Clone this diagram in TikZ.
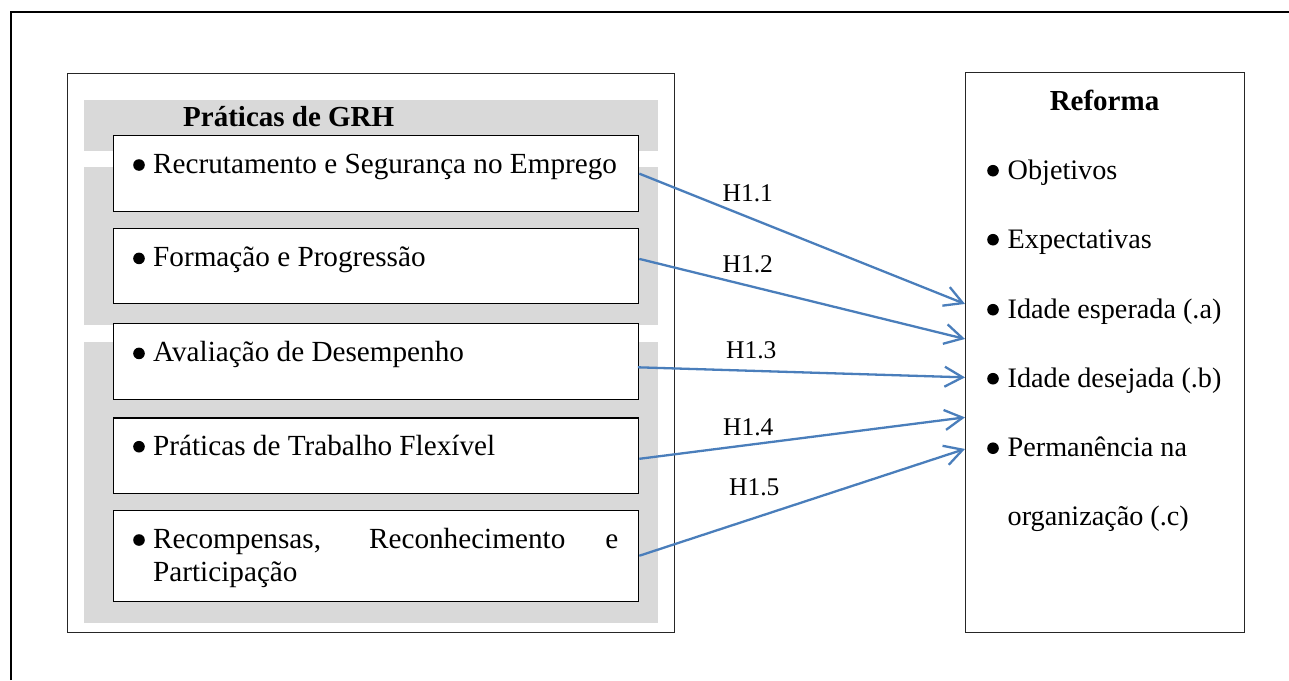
\documentclass[tikz,border=0pt]{standalone}
\usepackage{fontspec}
\setmainfont{Liberation Serif}
\usetikzlibrary{arrows.meta}
\definecolor{bandgray}{HTML}{D9D9D9}
\definecolor{arrblue}{HTML}{4A7EBB}
\newcommand\bul[1][20pt]{\makebox[#1][l]{\tikz[baseline=-8.3pt]\fill (0pt,0pt) circle[radius=5.8pt];}}
\tikzset{
  container/.style={draw=black!85, line width=1.3pt, anchor=north west, inner sep=0pt, fill=white},
  band/.style={fill=bandgray, draw=none, anchor=north west, inner sep=0pt},
  wbox/.style={draw=black, line width=1.3pt, fill=white, anchor=north west, inner sep=0pt, minimum width=525.5pt},
  item/.style={anchor=base west, inner sep=0pt, font=\fontsize{29.2}{33.4}\selectfont, align=left},
  ritem/.style={anchor=base west, inner sep=0pt, font=\fontsize{28.2}{69}\selectfont, align=left},
  hlabel/.style={anchor=base west, inner sep=0pt, font=\fontsize{25.5}{30}\selectfont},
  head/.style={inner sep=0pt, font=\fontsize{29}{34}\selectfont\bfseries},
  arr/.style={draw=arrblue, line width=2.3pt, -{Straight Barb[length=18pt,width=20pt,line width=2.3pt]}}
}
\begin{document}
\begin{tikzpicture}[x=1pt,y=-1pt]
\useasboundingbox (0,0) rectangle (1289,680);
% outer frame (top and left edges visible)
\coordinate (fbl) at (11,680);
\coordinate (ftl) at (11,12);
\coordinate (ftr) at (1289,12);
\draw[line width=2pt] (fbl) -- (ftl) -- (ftr);
% left container
\node[container, minimum width=607pt, minimum height=559pt] (L) at (67,73) {};
\node[band, minimum width=574pt, minimum height=51pt] (g1) at (84,100) {};
\node[band, minimum width=574pt, minimum height=158pt] (g2) at (84,167) {};
\node[band, minimum width=574pt, minimum height=281pt] (g3) at (84,342) {};
\node[head, anchor=base west] (title) at (183,126.7) {Práticas de GRH};
% practice boxes
\node[wbox, minimum height=76pt] (b1) at (112.5,135) {};
\node[wbox, minimum height=75.5pt] (b2) at (112.5,227.5) {};
\node[wbox, minimum height=75.7pt] (b3) at (112.5,323) {};
\node[wbox, minimum height=75.7pt] (b4) at (112.5,417.3) {};
\node[wbox, minimum height=91.2pt] (b5) at (112.5,509.5) {};
\node[item] (t1) at (133,173.3) {\bul Recrutamento e Segurança no Emprego};
\node[item] (t2) at (133,266.7) {\bul Formação e Progressão};
\node[item] (t3) at (133,361.7) {\bul Avaliação de Desempenho};
\node[item] (t4) at (133,455) {\bul Práticas de Trabalho Flexível};
\node[item] (t5) at (133,581.7) {\bul\makebox[465pt][s]{Recompensas, Reconhecimento e}\\\hspace*{20pt}Participação};
% right box
\node[container, minimum width=279pt, minimum height=560pt] (R) at (965,72) {};
\node[head, anchor=base] (rtitle) at (1104.5,110) {Reforma};
\node[ritem] (r1) at (987,179) {\bul[20.5pt]Objetivos};
\node[ritem] (r2) at (987,248) {\bul[20.5pt]Expectativas};
\node[ritem] (r3) at (987,318) {\bul[20.5pt]Idade esperada (.a)};
\node[ritem] (r4) at (987,387) {\bul[20.5pt]Idade desejada (.b)};
\node[ritem] (r5) at (987,525.5) {\bul[20.5pt]Permanência na\\\hspace*{20.5pt}organização (.c)};
% arrows
\draw[arr] (b1.east) -- ([yshift=48.7pt]R.west);
\draw[arr] ([yshift=7pt]b2.east) -- ([yshift=13.7pt]R.west);
\draw[arr] ([xshift=-1.5pt,yshift=-5.8pt]b3.east) -- ([yshift=-24.7pt]R.west);
\draw[arr] ([yshift=-3pt]b4.east) -- ([yshift=-64.7pt]R.west);
\draw[arr] (b5.east) -- ([yshift=-96.3pt]R.west);
% hypothesis labels
\node[hlabel] (h1) at (722.5,201.7) {H1.1};
\node[hlabel] (h2) at (722.5,272.7) {H1.2};
\node[hlabel] (h3) at (726,358.3) {H1.3};
\node[hlabel] (h4) at (723,435) {H1.4};
\node[hlabel] (h5) at (729,495) {H1.5};
\end{tikzpicture}
\end{document}
